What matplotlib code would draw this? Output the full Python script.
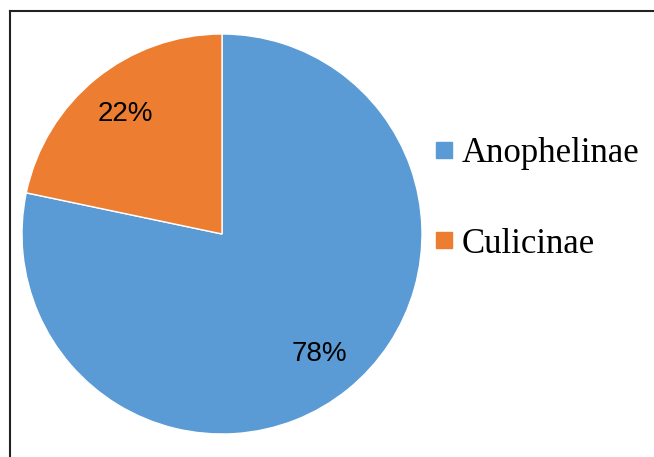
import matplotlib.pyplot as plt
from matplotlib.lines import Line2D

labels = ["Anophelinae", "Culicinae"]
shares = [78.3, 21.7]
colors = ["#5B9BD5", "#ED7D31"]

W, H = 654, 457
fig = plt.figure(figsize=(W / 100, H / 100), dpi=100)
fig.patch.set_facecolor("white")

# pie axes: centre ~ (222, 234) px from top-left, radius ~200 px
cx, cy, r = 222, 234, 200
ax = fig.add_axes([(cx - r) / W, (H - cy - r) / H, 2 * r / W, 2 * r / H])
wedges, _, autotexts = ax.pie(
    shares,
    colors=colors,
    startangle=90,
    counterclock=False,
    autopct="%1.0f%%",
    pctdistance=0.77,
    wedgeprops={"edgecolor": "white", "linewidth": 1.0},
    textprops={"fontsize": 20, "family": "Liberation Sans", "color": "black"},
)
ax.set_xlim(-1, 1)
ax.set_ylim(-1, 1)
ax.set_aspect("equal")
ax.axis("off")

handles = [
    Line2D([0], [0], marker="s", linestyle="none", markersize=12,
           markerfacecolor=c, markeredgecolor=c, label=l)
    for c, l in zip(colors, labels)
]
fig.legend(
    handles=handles,
    loc="center left",
    bbox_to_anchor=(420 / W, (H - 199) / H),
    bbox_transform=fig.transFigure,
    frameon=False,
    prop={"family": "Liberation Serif", "size": 25},
    handlelength=0.6,
    handletextpad=0.2,
    labelspacing=1.65,
    borderaxespad=0,
)

# partial frame around the chart area (left and top edges)
fig.add_artist(Line2D([9.5 / W, 9.5 / W], [0, 1 - 11 / H], transform=fig.transFigure,
                      color="#222222", linewidth=1.5))
fig.add_artist(Line2D([9.5 / W, 1], [1 - 11 / H, 1 - 11 / H], transform=fig.transFigure,
                      color="#222222", linewidth=1.5))

fig.savefig("out.png", dpi=100, facecolor="white")
